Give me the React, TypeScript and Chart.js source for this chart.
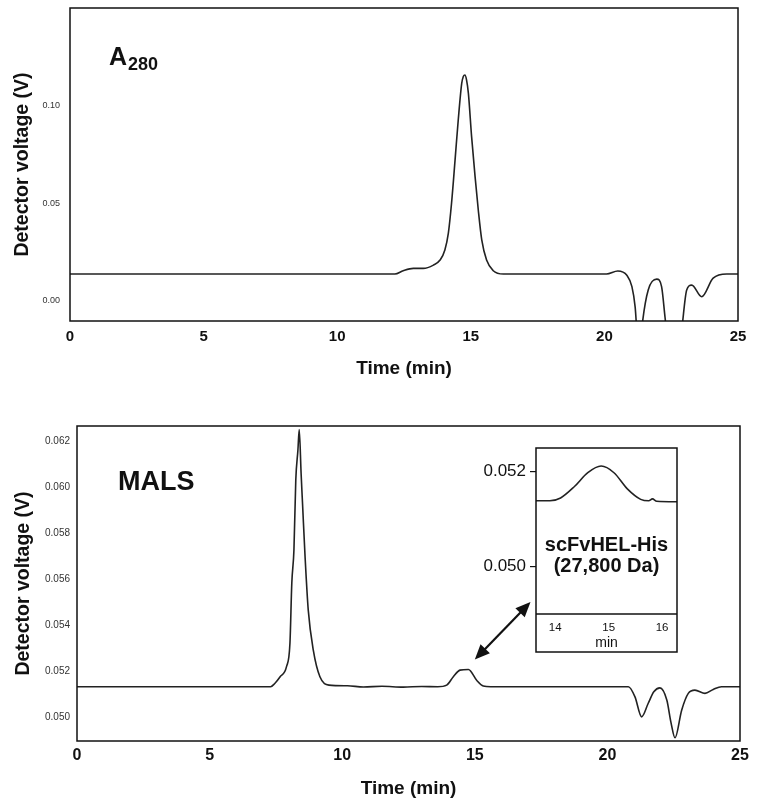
import React, { useEffect, useRef } from "react";
import { Chart, registerables } from "chart.js";

Chart.register(...registerables);

const FONT = "'Liberation Sans', Arial, Helvetica, sans-serif";
const INK = "#111";
const LINE = "#222";

// ---------- data ----------
const X_TICKS = [0, 5, 10, 15, 20, 25];

const A280_TIME = [
  0, 5, 10, 12.16, 12.47, 12.85, 13.22, 13.6, 13.85, 14.03, 14.16, 14.28, 14.41, 14.53, 14.66,
  14.72, 14.78, 14.84, 14.91, 15.03, 15.16, 15.28, 15.41, 15.59, 15.84, 16.22, 20.08, 20.5,
  20.84, 21.03, 21.15, 21.3, 21.43, 21.64, 21.96, 22.14, 22.27, 22.45, 22.8, 22.93, 23.08, 23.27,
  23.64, 24.07, 24.58, 25,
];
const A280_VALUE = [
  0.0134, 0.0134, 0.0134, 0.0134, 0.0151, 0.0163, 0.0163, 0.018, 0.0206, 0.0258, 0.0345, 0.05,
  0.072, 0.0928, 0.1117, 0.1152, 0.116, 0.1135, 0.1065, 0.0842, 0.0636, 0.0464, 0.031, 0.0206,
  0.0151, 0.0134, 0.0134, 0.015, 0.0128, 0.0069, -0.0035, -0.03, -0.011, 0.0052, 0.0108, 0.0069,
  -0.009, -0.03, -0.03, -0.011, 0.0052, 0.0077, 0.0017, 0.0113, 0.0134, 0.0134,
];
const A280_Y_TICKS = [0, 0.05, 0.1];

const MALS_TIME = [
  0, 4, 7.3, 7.45, 7.66, 7.9, 8.03, 8.1, 8.18, 8.25, 8.33, 8.38, 8.45, 8.51, 8.6, 8.72, 8.91,
  9.16, 9.5, 10.2, 10.8, 11.5, 12.3, 13.0, 13.6, 13.94, 14.19, 14.44, 14.76, 15.07, 15.32, 15.6,
  17, 19, 20.79, 21.04, 21.29, 21.54, 21.75, 21.98, 22.24, 22.4, 22.55, 22.8, 23.05, 23.3, 23.68,
  23.99, 24.3, 25,
];
const MALS_VALUE = [
  0.05132, 0.05132, 0.05132, 0.05145, 0.05175, 0.05219, 0.05322, 0.05583, 0.05726, 0.0603,
  0.0616, 0.0625, 0.0606, 0.05914, 0.05697, 0.05465, 0.05291, 0.05175, 0.05139, 0.05136, 0.05131,
  0.05134, 0.0513, 0.05133, 0.05132, 0.05139, 0.05175, 0.05204, 0.05207, 0.0516, 0.05135,
  0.05132, 0.05132, 0.05132, 0.05132, 0.05088, 0.05001, 0.0506, 0.0511, 0.05127, 0.05074,
  0.04975, 0.0491, 0.0503, 0.05103, 0.05117, 0.05103, 0.0512, 0.05132, 0.05132,
];
const MALS_Y_TICKS = [0.05, 0.052, 0.054, 0.056, 0.058, 0.06, 0.062];

const INSET_TIME = [13.64, 13.9, 14.1, 14.36, 14.61, 14.86, 15.1, 15.35, 15.6, 15.75, 15.82, 15.9, 16.28];
const INSET_VALUE = [
  0.05138, 0.05138, 0.05144, 0.05168, 0.05197, 0.05211, 0.05197, 0.05163, 0.05141, 0.05138,
  0.05142, 0.05137, 0.05136,
];
const INSET_X_TICKS = [14, 15, 16];
const INSET_Y_TICKS = [0.05, 0.052];

const ARROW_FROM = [15.0, 0.0525];
const ARROW_TO = [17.1, 0.055];

// ---------- plugins ----------
const framePlugin = {
  id: "frame",
  afterDraw(chart: any, _args: any, opts: any) {
    const { ctx, chartArea: a } = chart;
    ctx.save();
    ctx.strokeStyle = INK;
    ctx.lineWidth = opts.lineWidth ?? 1.5;
    const bottom = opts.extend ? chart.scales.x.bottom : a.bottom;
    ctx.strokeRect(a.left, a.top, a.right - a.left, bottom - a.top);
    if (opts.extend) {
      ctx.beginPath();
      ctx.moveTo(a.left, a.bottom);
      ctx.lineTo(a.right, a.bottom);
      ctx.stroke();
    }
    ctx.restore();
  },
};

const arrowPlugin = {
  id: "arrow",
  afterDraw(chart: any, _args: any, opts: any) {
    if (!opts || !opts.from) return;
    const { ctx } = chart;
    const xs = chart.scales.x;
    const ys = chart.scales.y;
    const x1 = xs.getPixelForValue(opts.from[0]);
    const y1 = ys.getPixelForValue(opts.from[1]);
    const x2 = xs.getPixelForValue(opts.to[0]);
    const y2 = ys.getPixelForValue(opts.to[1]);
    const dx = x2 - x1;
    const dy = y2 - y1;
    const len = Math.hypot(dx, dy);
    const ux = dx / len;
    const uy = dy / len;
    const hl = 15;
    const hw = 6.5;
    ctx.save();
    ctx.strokeStyle = INK;
    ctx.fillStyle = INK;
    ctx.lineWidth = 2.2;
    ctx.beginPath();
    ctx.moveTo(x1 + ux * hl * 0.8, y1 + uy * hl * 0.8);
    ctx.lineTo(x2 - ux * hl * 0.8, y2 - uy * hl * 0.8);
    ctx.stroke();
    const head = (tx: number, ty: number, dirx: number, diry: number) => {
      ctx.beginPath();
      ctx.moveTo(tx, ty);
      ctx.lineTo(tx - dirx * hl - diry * hw, ty - diry * hl + dirx * hw);
      ctx.lineTo(tx - dirx * hl + diry * hw, ty - diry * hl - dirx * hw);
      ctx.closePath();
      ctx.fill();
    };
    head(x2, y2, ux, uy);
    head(x1, y1, -ux, -uy);
    ctx.restore();
  },
};

// ---------- helpers ----------
function lineDataset(times: number[], values: number[]) {
  return {
    data: times.map((t, i) => ({ x: t, y: values[i] })),
    borderColor: LINE,
    borderWidth: 1.6,
    pointRadius: 0,
    fill: false,
    cubicInterpolationMode: "monotone",
  };
}

function fixedTicks(values: number[]) {
  return (s: any) => {
    s.ticks = values.map((v) => ({ value: v }));
  };
}

function fixWidth(w: number) {
  return (s: any) => {
    s.width = w;
    s.paddingTop = 0;
    s.paddingBottom = 0;
    s.paddingLeft = 0;
    s.paddingRight = 0;
  };
}
function fixHeight(h: number) {
  return (s: any) => {
    s.height = h;
    s.paddingTop = 0;
    s.paddingBottom = 0;
    s.paddingLeft = 0;
    s.paddingRight = 0;
  };
}

function baseOptions(padding: any) {
  return {
    responsive: false,
    maintainAspectRatio: false,
    animation: false,
    devicePixelRatio: 1,
    layout: { padding, autoPadding: false },
    plugins: { legend: { display: false }, tooltip: { enabled: false } },
  };
}

function mainConfig(opts: {
  times: number[];
  values: number[];
  yMin: number;
  yMax: number;
  yTicks: number[];
  yDecimals: number;
  yTickSize: number;
  yTickPad: number;
  yWidth: number;
  xHeight: number;
  xTickSize: number;
  xTickPad: number;
  xTitlePad: number;
  yTitlePad: number;
  padding: any;
  arrow?: any;
}) {
  const base: any = baseOptions(opts.padding);
  base.plugins.frame = { lineWidth: 1.5 };
  if (opts.arrow) base.plugins.arrow = opts.arrow;
  return {
    type: "line",
    data: { datasets: [lineDataset(opts.times, opts.values)] },
    plugins: opts.arrow ? [framePlugin, arrowPlugin] : [framePlugin],
    options: {
      ...base,
      scales: {
        x: {
          type: "linear",
          min: 0,
          max: 25,
          afterBuildTicks: fixedTicks(X_TICKS),
          afterFit: fixHeight(opts.xHeight),
          grid: { display: false, drawTicks: false, tickLength: 0 },
          border: { display: false },
          ticks: {
            font: { family: FONT, size: opts.xTickSize, weight: "bold" },
            color: INK,
            padding: opts.xTickPad,
            maxRotation: 0,
            autoSkip: false,
            callback: (v: any) => String(v),
          },
          title: {
            display: true,
            text: "Time (min)",
            font: { family: FONT, size: 19, weight: "bold" },
            color: INK,
            padding: { top: 0, bottom: opts.xTitlePad },
          },
        },
        y: {
          type: "linear",
          min: opts.yMin,
          max: opts.yMax,
          afterBuildTicks: fixedTicks(opts.yTicks),
          afterFit: fixWidth(opts.yWidth),
          grid: { display: false, drawTicks: false, tickLength: 0 },
          border: { display: false },
          ticks: {
            font: { family: FONT, size: opts.yTickSize },
            color: "#333",
            padding: opts.yTickPad,
            autoSkip: false,
            callback: (v: any) => Number(v).toFixed(opts.yDecimals),
          },
          title: {
            display: true,
            text: "Detector voltage (V)",
            font: { family: FONT, size: 19.5, weight: "bold" },
            color: INK,
            padding: { top: opts.yTitlePad, bottom: 0 },
          },
        },
      },
    },
  };
}

function insetConfig() {
  const base: any = baseOptions({ left: 0, top: 8, right: 13, bottom: 8 });
  base.plugins.frame = { lineWidth: 1.5, extend: true };
  return {
    type: "line",
    data: { datasets: [lineDataset(INSET_TIME, INSET_VALUE)] },
    plugins: [framePlugin],
    options: {
      ...base,
      scales: {
        x: {
          type: "linear",
          min: 13.64,
          max: 16.28,
          afterBuildTicks: fixedTicks(INSET_X_TICKS),
          afterFit: fixHeight(38),
          grid: { display: false, drawTicks: false, tickLength: 0 },
          border: { display: false },
          ticks: {
            font: { family: FONT, size: 11.5 },
            color: INK,
            padding: 7,
            maxRotation: 0,
            autoSkip: false,
            callback: (v: any) => String(v),
          },
          title: {
            display: true,
            text: "min",
            font: { family: FONT, size: 14 },
            color: INK,
            padding: { top: 0, bottom: 0 },
          },
        },
        y: {
          type: "linear",
          min: 0.049,
          max: 0.05249,
          afterBuildTicks: fixedTicks(INSET_Y_TICKS),
          afterFit: fixWidth(66),
          grid: {
            display: true,
            drawOnChartArea: false,
            drawTicks: true,
            tickLength: 6,
            color: INK,
            lineWidth: 1.2,
          },
          border: { display: false },
          ticks: {
            font: { family: FONT, size: 17 },
            color: INK,
            padding: 4,
            autoSkip: false,
            callback: (v: any) => Number(v).toFixed(3),
          },
        },
      },
    },
  };
}

function ChartCanvas(props: { left: number; top: number; width: number; height: number; make: () => any }) {
  const ref = useRef<HTMLCanvasElement>(null);
  useEffect(() => {
    const chart = new Chart(ref.current as HTMLCanvasElement, props.make());
    return () => chart.destroy();
  }, []);
  return (
    <canvas
      ref={ref}
      width={props.width}
      height={props.height}
      style={{
        position: "absolute",
        left: props.left,
        top: props.top,
        width: props.width,
        height: props.height,
        display: "block",
      }}
    />
  );
}

const label = (extra: any): any => ({
  position: "absolute",
  fontFamily: FONT,
  fontWeight: "bold",
  lineHeight: 1,
  whiteSpace: "nowrap",
  color: INK,
  ...extra,
});

export default function App() {
  return (
    <div
      style={{
        position: "absolute",
        left: 0,
        top: 0,
        width: 761,
        height: 803,
        background: "#fff",
        overflow: "hidden",
      }}
    >
      <ChartCanvas
        left={0}
        top={0}
        width={761}
        height={400}
        make={() =>
          mainConfig({
            times: A280_TIME,
            values: A280_VALUE,
            yMin: -0.0108,
            yMax: 0.1505,
            yTicks: A280_Y_TICKS,
            yDecimals: 2,
            yTickSize: 9,
            yTickPad: 10,
            yWidth: 70,
            xHeight: 79,
            xTickSize: 15,
            xTickPad: 7,
            xTitlePad: 20,
            yTitlePad: 11,
            padding: { left: 0, top: 8, right: 23, bottom: 0 },
          })
        }
      />
      <ChartCanvas
        left={0}
        top={400}
        width={761}
        height={403}
        make={() =>
          mainConfig({
            times: MALS_TIME,
            values: MALS_VALUE,
            yMin: 0.04896,
            yMax: 0.06265,
            yTicks: MALS_Y_TICKS,
            yDecimals: 3,
            yTickSize: 10,
            yTickPad: 7,
            yWidth: 77,
            xHeight: 62,
            xTickSize: 16,
            xTickPad: 5,
            xTitlePad: 3,
            yTitlePad: 12,
            padding: { left: 0, top: 26, right: 21, bottom: 0 },
            arrow: { from: ARROW_FROM, to: ARROW_TO },
          })
        }
      />
      <ChartCanvas left={470} top={440} width={220} height={220} make={insetConfig} />

      <div style={label({ left: 109, top: 44, fontSize: 25 })}>A</div>
      <div style={label({ left: 128, top: 55, fontSize: 18 })}>280</div>
      <div style={label({ left: 118, top: 468, fontSize: 27 })}>MALS</div>
      <div
        style={label({
          left: 536,
          top: 534,
          width: 141,
          textAlign: "center",
          fontSize: 20,
          lineHeight: "20.5px",
        })}
      >
        scFvHEL-His
        <br />
        (27,800 Da)
      </div>
    </div>
  );
}
